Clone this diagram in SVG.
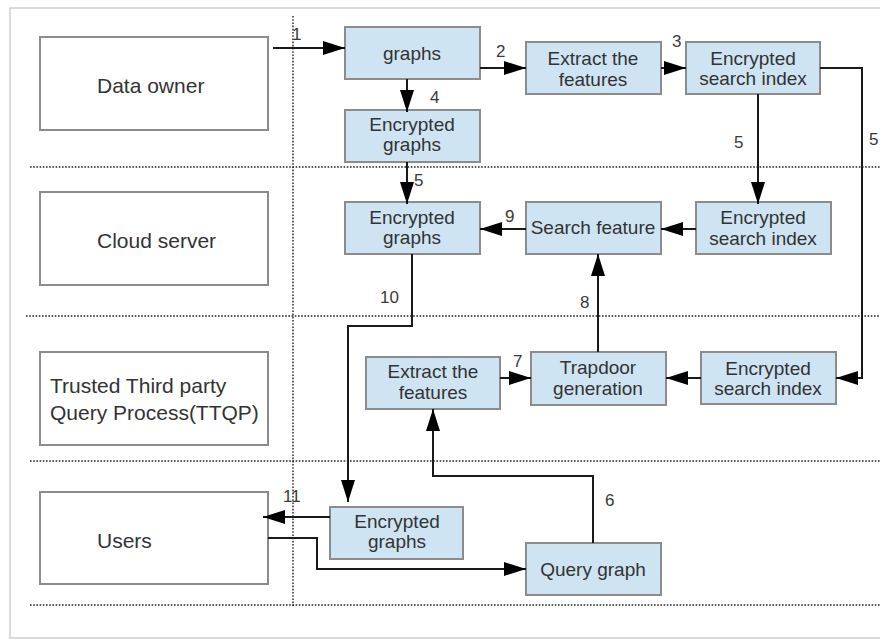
<svg xmlns="http://www.w3.org/2000/svg" width="880" height="639" viewBox="0 0 880 639">
  <style>
    .frame { fill: #ffffff; stroke: #cfcfcf; stroke-width: 1.5; }
    .divider { fill: none; stroke: #222; stroke-width: 1.4; stroke-dasharray: 1.6 1.6; }
    .actor rect { fill: #ffffff; stroke: #8c8c8c; stroke-width: 2; }
    .actor text { font-family: "Liberation Sans", Arial, sans-serif; font-size: 21px; fill: #333; }
    .step rect { fill: #cfe4f3; stroke: #8c8c8c; stroke-width: 2; }
    .step text { font-family: "Liberation Sans", Arial, sans-serif; font-size: 19px; fill: #333; text-anchor: middle; }
    .wire { fill: none; stroke: #1a1a1a; stroke-width: 2; }
    .num { font-family: "Liberation Sans", Arial, sans-serif; font-size: 17px; fill: #3a3a3a; }
  </style>
  <defs>
    <marker id="ah" viewBox="0 0 22 14" refX="22" refY="7" markerWidth="22" markerHeight="14" markerUnits="userSpaceOnUse" orient="auto">
      <path d="M0,0 L22,7 L0,14 z" fill="#000"/>
    </marker>
  </defs>

  <!-- page frame -->
  <rect class="frame" x="10" y="8" width="880" height="630"/>

  <!-- swimlane dividers -->
  <g id="lanes">
    <line class="divider" x1="293" y1="16" x2="293" y2="606"/>
    <line class="divider" x1="30" y1="167" x2="880" y2="167"/>
    <line class="divider" x1="26" y1="316" x2="880" y2="316"/>
    <line class="divider" x1="30" y1="461" x2="880" y2="461"/>
    <line class="divider" x1="30" y1="605" x2="880" y2="605"/>
  </g>

  <!-- actors -->
  <g id="data-owner" class="actor">
    <rect x="40" y="37" width="228" height="93"/>
    <text x="97" y="93">Data owner</text>
  </g>
  <g id="cloud-server" class="actor">
    <rect x="40" y="192" width="228" height="93"/>
    <text x="97" y="248">Cloud server</text>
  </g>
  <g id="ttqp" class="actor">
    <rect x="40" y="352" width="228" height="93"/>
    <text x="50" y="393">Trusted Third party</text>
    <text x="50" y="420">Query Process(TTQP)</text>
  </g>
  <g id="users" class="actor">
    <rect x="40" y="492" width="228" height="92"/>
    <text x="97" y="548">Users</text>
  </g>

  <!-- process steps -->
  <g id="graphs" class="step">
    <rect x="345" y="27" width="135" height="52"/>
    <text x="412" y="60">graphs</text>
  </g>
  <g id="extract-owner" class="step">
    <rect x="526" y="42" width="135" height="52"/>
    <text x="593" y="65">Extract the</text>
    <text x="593" y="86">features</text>
  </g>
  <g id="index-owner" class="step">
    <rect x="686" y="42" width="134" height="52"/>
    <text x="753" y="65">Encrypted</text>
    <text x="753" y="85">search index</text>
  </g>
  <g id="enc-graphs-owner" class="step">
    <rect x="345" y="110" width="135" height="52"/>
    <text x="412" y="131">Encrypted</text>
    <text x="412" y="151">graphs</text>
  </g>
  <g id="enc-graphs-cloud" class="step">
    <rect x="345" y="202" width="135" height="52"/>
    <text x="412" y="224">Encrypted</text>
    <text x="412" y="244">graphs</text>
  </g>
  <g id="search-feature" class="step">
    <rect x="526" y="202" width="135" height="52"/>
    <text x="593" y="234">Search feature</text>
  </g>
  <g id="index-cloud" class="step">
    <rect x="696" y="202" width="135" height="52"/>
    <text x="763" y="224">Encrypted</text>
    <text x="763" y="245">search index</text>
  </g>
  <g id="extract-ttqp" class="step">
    <rect x="366" y="357" width="134" height="52"/>
    <text x="433" y="378">Extract the</text>
    <text x="433" y="399">features</text>
  </g>
  <g id="trapdoor" class="step">
    <rect x="531" y="352" width="135" height="53"/>
    <text x="598" y="374">Trapdoor</text>
    <text x="598" y="395">generation</text>
  </g>
  <g id="index-ttqp" class="step">
    <rect x="701" y="352" width="135" height="52"/>
    <text x="768" y="375">Encrypted</text>
    <text x="768" y="395">search index</text>
  </g>
  <g id="enc-graphs-users" class="step">
    <rect x="330" y="507" width="133" height="52"/>
    <text x="397" y="528">Encrypted</text>
    <text x="397" y="548">graphs</text>
  </g>
  <g id="query-graph" class="step">
    <rect x="526" y="543" width="135" height="52"/>
    <text x="593" y="576">Query graph</text>
  </g>

  <!-- connectors -->
  <g id="connectors">
    <path class="wire" marker-end="url(#ah)" d="M273,48 H345"/>
    <path class="wire" marker-end="url(#ah)" d="M480,68 H526"/>
    <path class="wire" marker-end="url(#ah)" d="M661,68 H686"/>
    <path class="wire" marker-end="url(#ah)" d="M407,79 V112"/>
    <path class="wire" marker-end="url(#ah)" d="M407,162 V204"/>
    <path class="wire" marker-end="url(#ah)" d="M758,94 V204"/>
    <path class="wire" marker-end="url(#ah)" d="M820,68 H862 V378 H836"/>
    <path class="wire" marker-end="url(#ah)" d="M696,229 H661"/>
    <path class="wire" marker-end="url(#ah)" d="M526,229 H480"/>
    <path class="wire" marker-end="url(#ah)" d="M598,352 V254"/>
    <path class="wire" marker-end="url(#ah)" d="M412,254 V326 H348 V502"/>
    <path class="wire" marker-end="url(#ah)" d="M500,378 H531"/>
    <path class="wire" marker-end="url(#ah)" d="M701,378 H666"/>
    <path class="wire" marker-end="url(#ah)" d="M330,517 H263"/>
    <path class="wire" marker-end="url(#ah)" d="M268,538 H317 V569 H526"/>
    <path class="wire" marker-end="url(#ah)" d="M593,543 V476 H433 V409"/>
  </g>

  <!-- step numbers -->
  <g id="step-numbers">
    <text class="num" x="292" y="40">1</text>
    <text class="num" x="496" y="57">2</text>
    <text class="num" x="672" y="47">3</text>
    <text class="num" x="430" y="103">4</text>
    <text class="num" x="414" y="186">5</text>
    <text class="num" x="734" y="148">5</text>
    <text class="num" x="869" y="145">5</text>
    <text class="num" x="505" y="222">9</text>
    <text class="num" x="580" y="308">8</text>
    <text class="num" x="380" y="303">10</text>
    <text class="num" x="513" y="367">7</text>
    <text class="num" x="605" y="506">6</text>
    <text class="num" x="283" y="502">11</text>
  </g>
</svg>
